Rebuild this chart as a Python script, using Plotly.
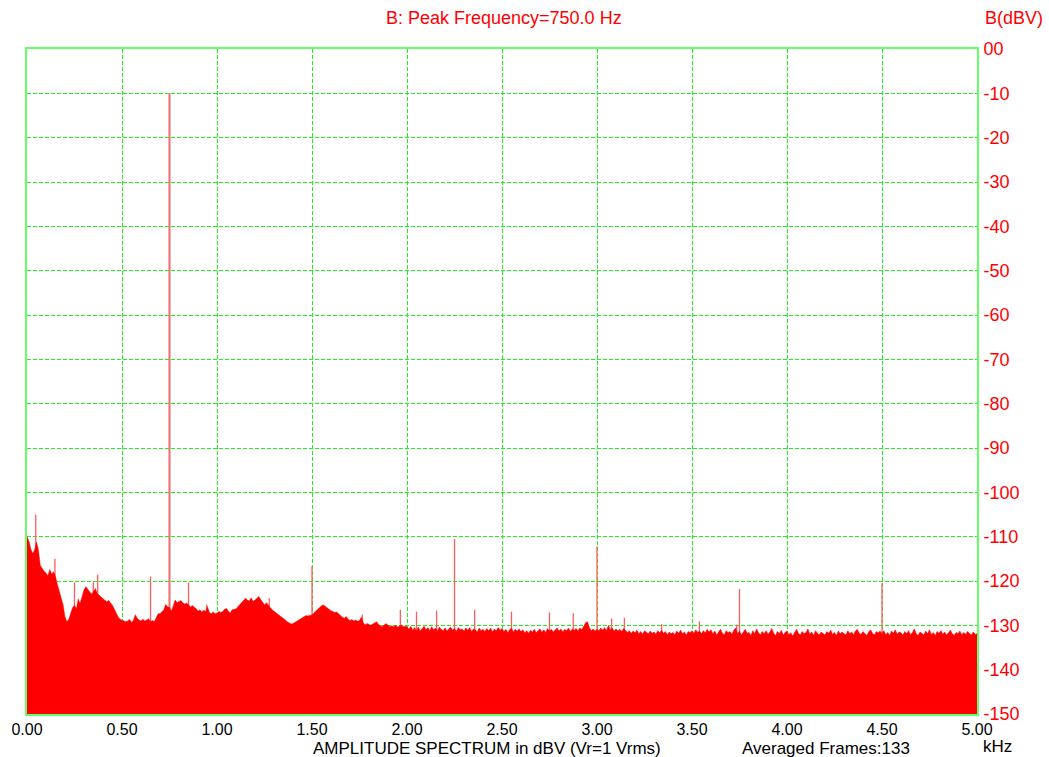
import plotly.graph_objects as go

# ---------------- data ----------------
freq_step_khz = 0.01
noise_floor_dbv = [
    # 0.00 - 0.99
    -110.0, -111.0, -112.8, -113.8, -113.0, -111.2, -113.0, -116.5, -117.2, -117.8,
    -118.2, -118.8, -117.4, -118.5, -117.9, -119.0, -120.8, -122.5, -124.3, -125.4,
    -128.1, -129.2, -128.6, -127.0, -126.0, -125.5, -126.2, -124.3, -125.0, -123.5,
    -122.0, -121.3, -121.8, -122.5, -123.0, -122.4, -121.7, -122.8, -123.3, -123.6,
    -124.0, -124.3, -124.7, -124.4, -124.9, -125.5, -126.4, -127.4, -128.1, -128.6,
    -128.8, -128.9, -129.2, -129.0, -128.7, -129.3, -128.9, -127.6, -128.4, -128.8,
    -129.0, -128.6, -129.0, -128.8, -128.5, -129.2, -128.9, -129.2, -128.2, -127.4,
    -127.4, -126.9, -126.5, -125.3, -125.8, -126.0, -126.8, -125.6, -124.3, -124.9,
    -124.7, -124.4, -124.9, -125.2, -125.0, -125.3, -125.9, -125.5, -125.9, -126.2,
    -126.8, -126.5, -127.0, -126.6, -126.9, -125.8, -127.1, -127.4, -127.0, -127.4,
    # 1.00 - 1.99
    -127.2, -126.9, -127.1, -126.9, -126.4, -126.2, -126.8, -127.2, -126.5, -126.4,
    -126.3, -125.8, -125.3, -124.7, -124.3, -123.9, -124.3, -124.5, -123.8, -124.6,
    -124.3, -124.0, -123.5, -124.2, -124.8, -125.4, -124.9, -125.6, -126.0, -126.5,
    -126.8, -127.1, -127.4, -127.8, -128.1, -128.4, -128.8, -129.2, -129.5, -129.7,
    -129.6, -129.3, -129.1, -128.7, -128.5, -128.3, -128.0, -127.8, -127.9, -127.7,
    -127.7, -127.2, -126.8, -126.3, -126.0, -125.6, -125.4, -125.8, -126.0, -126.4,
    -126.7, -126.9, -127.1, -127.0, -127.3, -127.8, -128.2, -128.4, -128.0, -128.6,
    -128.9, -128.7, -129.0, -128.8, -129.1, -128.9, -128.1, -129.4, -129.9, -129.6,
    -129.8, -130.0, -129.7, -129.4, -129.2, -129.8, -130.1, -130.3, -129.9, -129.6,
    -130.0, -130.3, -130.1, -130.3, -130.0, -130.4, -130.2, -129.9, -130.3, -130.2,
    # 2.00 - 2.99
    -130.3, -130.9, -130.2, -131.1, -130.5, -131.2, -130.4, -131.3, -130.7, -130.2,
    -131.0, -130.5, -131.2, -130.3, -131.0, -130.6, -131.3, -130.4, -130.9, -131.2,
    -130.6, -131.3, -130.8, -130.4, -131.1, -130.7, -131.4, -130.5, -131.0, -130.8,
    -131.3, -130.6, -131.1, -130.5, -131.4, -130.8, -131.0, -131.5, -130.6, -131.2,
    -130.9, -131.4, -130.7, -131.2, -130.6, -131.5, -130.8, -131.3, -130.5, -131.1,
    -130.7, -131.4, -130.9, -131.6, -131.0, -130.6, -131.5, -130.9, -131.3, -130.8,
    -131.4, -131.0, -131.7, -131.2, -131.8, -131.1, -131.5, -130.9, -131.6, -131.2,
    -130.8, -131.5, -131.0, -131.6, -130.7, -131.3, -130.9, -131.5, -131.1, -130.6,
    -131.3, -130.8, -131.5, -130.9, -131.2, -130.6, -131.4, -130.8, -131.1, -130.7,
    -131.2, -130.6, -131.0, -130.2, -129.4, -129.2, -130.5, -131.2, -130.8, -131.3,
    # 3.00 - 3.99
    -130.9, -131.2, -130.6, -131.1, -130.5, -131.2, -130.0, -131.0, -130.6, -131.3,
    -130.8, -131.3, -130.9, -131.4, -130.7, -131.1, -131.6, -131.2, -131.8, -131.3,
    -131.7, -131.1, -131.9, -131.4, -132.0, -131.2, -131.6, -131.9, -131.3, -131.8,
    -131.5, -132.0, -131.2, -131.7, -131.1, -131.8, -131.4, -132.1, -131.5, -131.9,
    -131.6, -132.1, -131.3, -131.8, -131.1, -131.9, -131.5, -132.2, -131.4, -131.7,
    -131.2, -131.8, -131.0, -131.6, -131.3, -131.9, -131.2, -131.7, -130.9, -131.5,
    -131.0, -131.9, -131.3, -132.2, -131.5, -130.9, -131.8, -132.1, -131.2, -131.7,
    -131.4, -132.0, -131.1, -130.6, -131.9, -131.3, -132.2, -131.5, -130.9, -131.8,
    -131.6, -132.3, -131.2, -131.9, -130.8, -131.7, -132.1, -131.4, -131.9, -131.2,
    -132.0, -131.5, -130.7, -131.8, -132.3, -131.4, -131.9, -131.1, -132.2, -131.6,
    # 4.00 - 4.99
    -131.3, -132.1, -131.7, -132.4, -131.5, -130.9, -131.8, -132.2, -131.4, -131.9,
    -131.6, -130.8, -132.0, -131.5, -132.3, -131.2, -131.8, -132.1, -131.5, -131.9,
    -132.2, -131.4, -131.8, -131.1, -132.0, -131.6, -132.3, -131.3, -131.9, -131.5,
    -131.8, -132.2, -131.2, -131.9, -131.5, -132.1, -131.3, -130.9, -131.8, -132.0,
    -131.4, -131.9, -132.3, -131.5, -131.0, -131.8, -132.2, -131.4, -131.7, -131.3,
    -131.9, -131.2, -132.1, -131.6, -132.3, -131.3, -131.8, -131.0, -132.0, -131.5,
    -131.7, -132.2, -131.4, -131.9, -131.2, -132.1, -131.6, -130.8, -131.9, -132.3,
    -131.5, -131.8, -132.2, -131.3, -131.9, -131.0, -132.1, -131.6, -132.3, -131.4,
    -131.8, -131.2, -132.0, -131.5, -132.2, -131.7, -131.1, -131.9, -132.3, -131.6,
    -131.9, -131.3, -132.1, -131.6, -132.0, -131.4, -131.8, -132.2, -131.5, -132.0,
    # 5.00
    -131.9,
]

peak_freqs_khz = [0.046, 0.147, 0.25, 0.27, 0.349, 0.372, 0.65, 0.85, 0.946, 1.275,
                  1.5, 1.765, 1.965, 2.05, 2.156, 2.25, 2.356, 2.55, 2.75, 2.875,
                  3.0, 3.077, 3.144, 3.34, 3.539, 3.735, 3.75, 4.5]
peak_levels_dbv = [-105.0, -115.0, -120.3, -124.0, -120.3, -118.6, -119.0, -120.3, -125.3, -123.9,
                   -116.7, -127.6, -126.5, -126.9, -126.7, -110.5, -126.5, -126.9, -127.1, -127.3,
                   -112.2, -128.5, -128.3, -129.7, -129.1, -129.8, -121.8, -120.5]

main_peak_khz = 0.75
main_peak_dbv = -10.0

x_ticks = [0.0, 0.5, 1.0, 1.5, 2.0, 2.5, 3.0, 3.5, 4.0, 4.5, 5.0]
x_tick_labels = ["0.00", "0.50", "1.00", "1.50", "2.00", "2.50", "3.00", "3.50", "4.00", "4.50", "5.00"]
y_ticks = [0, -10, -20, -30, -40, -50, -60, -70, -80, -90, -100, -110, -120, -130, -140, -150]
y_tick_labels = ["00", "-10", "-20", "-30", "-40", "-50", "-60", "-70", "-80", "-90",
                 "-100", "-110", "-120", "-130", "-140", "-150"]

Y_FLOOR = -150.0
X_MAX = 5.0

# ---------------- figure ----------------
freqs = [i * freq_step_khz for i in range(len(noise_floor_dbv))]

fig = go.Figure()

# narrow spurs (drawn first so the filled spectrum covers their lower part)
px, py = [], []
for f, v in zip(peak_freqs_khz, peak_levels_dbv):
    px += [f, f, None]
    py += [Y_FLOOR, v, None]
fig.add_trace(go.Scatter(
    x=px, y=py, mode="lines",
    line=dict(color="#ff5c5c", width=1.3),
    hoverinfo="skip", showlegend=False,
))

# main peak
fig.add_trace(go.Scatter(
    x=[main_peak_khz, main_peak_khz], y=[Y_FLOOR, main_peak_dbv], mode="lines",
    line=dict(color="#f46a6a", width=2),
    hoverinfo="skip", showlegend=False,
))

# filled spectrum
fig.add_trace(go.Scatter(
    x=[0.0] + freqs + [freqs[-1]],
    y=[Y_FLOOR] + noise_floor_dbv + [Y_FLOOR],
    mode="lines", fill="toself", fillcolor="#ff0000",
    line=dict(color="#ff0000", width=0.5),
    hoverinfo="skip", showlegend=False,
))

GRID = "#22ee22"
AXIS = "#66ff66"
FONT = "Liberation Sans, Arial, sans-serif"

PL, PR, PT, PB = 27, 977, 49, 714   # plot area in pixels
PW, PH = PR - PL, PB - PT


def px2paper(x, y):
    return (x - PL) / PW, (PB - y) / PH


tx, ty = px2paper(504, 18)
bx, by = px2paper(1044, 18)
ax1, ay1 = px2paper(312, 748)
ax2, ay2 = px2paper(911, 748)
kx, ky = px2paper(997, 746)

fig.update_layout(
    width=1049, height=757,
    margin=dict(l=PL, r=1049 - PR, t=PT, b=757 - PB),
    paper_bgcolor="white", plot_bgcolor="white",
    font=dict(family=FONT, size=18, color="black"),
    showlegend=False,
    xaxis=dict(
        range=[0, X_MAX], tickvals=x_ticks, ticktext=x_tick_labels,
        showgrid=True, gridcolor=GRID, griddash="4px,2px", gridwidth=1,
        showline=True, linecolor=AXIS, linewidth=2, mirror=True,
        ticks="", ticklabelstandoff=0, zeroline=False,
        tickfont=dict(family=FONT, size=16, color="black"),
        fixedrange=True,
    ),
    yaxis=dict(
        range=[Y_FLOOR, 0], tickvals=y_ticks, ticktext=y_tick_labels,
        side="right",
        showgrid=True, gridcolor=GRID, griddash="4px,2px", gridwidth=1,
        showline=True, linecolor=AXIS, linewidth=2, mirror=True,
        ticks="", ticklabelstandoff=1, zeroline=False,
        tickfont=dict(family=FONT, size=18, color="#ff0000"),
        fixedrange=True,
    ),
    annotations=[
        dict(text="B: Peak Frequency=750.0 Hz", xref="paper", yref="paper",
             x=tx, y=ty, xanchor="center", yanchor="middle", borderpad=0,
             showarrow=False, font=dict(family=FONT, size=18, color="#ff0000")),
        dict(text="B(dBV)", xref="paper", yref="paper",
             x=bx, y=by, xanchor="right", yanchor="middle", borderpad=0,
             showarrow=False, font=dict(family=FONT, size=18, color="#ff0000")),
        dict(text="AMPLITUDE SPECTRUM in dBV (Vr=1 Vrms)",
             xref="paper", yref="paper", x=ax1, y=ay1, xanchor="left", yanchor="middle",
             borderpad=0, showarrow=False, font=dict(family=FONT, size=17, color="black")),
        dict(text="Averaged Frames:133",
             xref="paper", yref="paper", x=ax2, y=ay2, xanchor="right", yanchor="middle",
             borderpad=0, showarrow=False, font=dict(family=FONT, size=17, color="black")),
        dict(text="kHz", xref="paper", yref="paper",
             x=kx, y=ky, xanchor="center", yanchor="middle", borderpad=0,
             showarrow=False, font=dict(family=FONT, size=17, color="black")),
    ],
)

fig.write_html("out.html",
               config={"displayModeBar": False},
               post_script="document.body.style.margin='0';document.body.style.overflow='hidden';")
